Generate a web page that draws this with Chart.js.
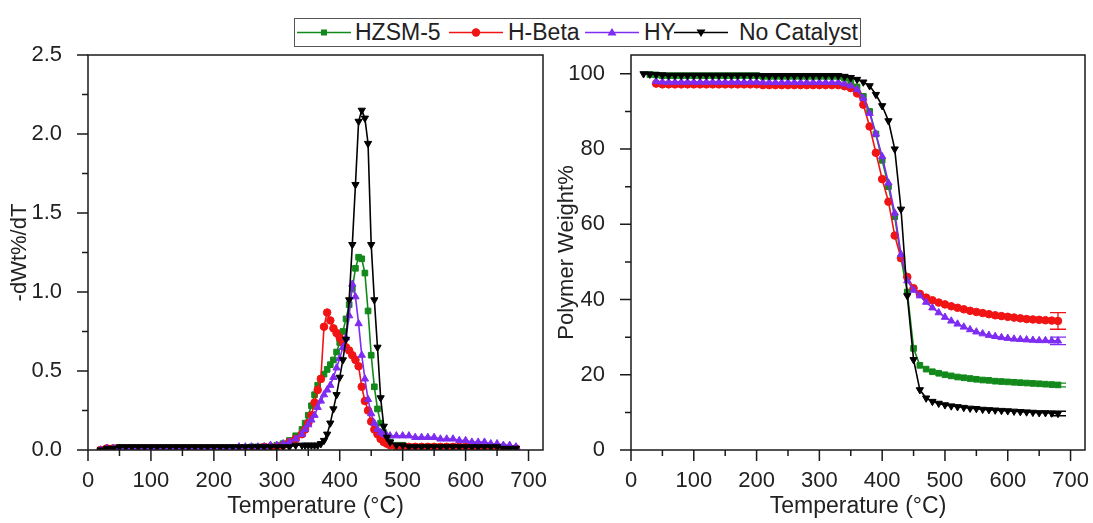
<!DOCTYPE html>
<html><head><meta charset="utf-8">
<script src="https://cdn.jsdelivr.net/npm/chart.js@4.4.1/dist/chart.umd.min.js"></script>
<style>
html,body{margin:0;padding:0;background:#fff;width:1093px;height:523px;overflow:hidden;position:relative;font-family:"Liberation Sans",Arial,sans-serif;}
#c1{position:absolute;left:0;top:0;}
#c2{position:absolute;left:545px;top:0;}
#legend{position:absolute;left:294px;top:18px;width:565px;height:27px;border:1.5px solid #555;background:#fff;}
.lg{position:absolute;top:0;}
.lt{position:absolute;top:0;line-height:27px;font-size:23px;color:#222;white-space:nowrap;}
</style></head>
<body>
<canvas id="c1" width="560" height="523"></canvas>
<canvas id="c2" width="548" height="523"></canvas>
<div id="legend"></div>
<script>
// ---------- DATA ----------
const seriesNames = ["HZSM-5", "H-Beta", "HY", "No Catalyst"];
const seriesColors = ["#12891a", "#f01414", "#7f2cf2", "#000000"];

const xTicks = [0, 100, 200, 300, 400, 500, 600, 700];
const xMinorTicks = [50, 150, 250, 350, 450, 550, 650];
const dtgYTicks = [0, 0.5, 1.0, 1.5, 2.0, 2.5];
const dtgYMinorTicks = [0.25, 0.75, 1.25, 1.75, 2.25];
const tgaYTicks = [0, 20, 40, 60, 80, 100];
const tgaYMinorTicks = [10, 30, 50, 70, 90];

// Derivative (DTG) curves: -dWt%/dT vs temperature
const dtgTemps = [20,30,40,50,60,70,80,90,100,110,120,130,140,150,160,170,180,190,200,210,220,230,240,250,260,270,280,290,300,310,320,330,340,
  345,350,355,360,365,370,375,380,385,390,395,400,405,410,415,420,425,430,435,440,445,450,455,460,465,470,475,480,
  490,500,510,520,530,540,550,560,570,580,590,600,610,620,630,640,650,660,670,680];
const dtgHZSM5 = [0.00,0.01,0.01,0.01,0.01,0.01,0.01,0.01,0.01,0.01,0.01,0.01,0.01,0.01,0.01,0.01,0.01,0.01,0.01,0.01,0.01,0.01,0.01,0.01,0.02,0.02,0.02,0.02,
  0.03,0.04,0.06,0.09,0.13,
  0.17,0.22,0.28,0.35,0.41,0.45,0.48,0.51,0.54,0.57,0.62,0.68,0.75,0.83,0.92,1.02,1.15,1.22,1.21,1.12,0.88,0.60,0.40,0.26,0.17,0.11,0.07,0.05,
  0.03,0.03,0.02,0.02,0.02,0.02,0.02,0.02,0.02,0.02,0.02,0.02,0.02,0.02,0.02,0.02,0.02,0.02,0.01,0.01];
const dtgHBeta = [0.00,0.01,0.01,0.01,0.01,0.01,0.01,0.01,0.01,0.01,0.01,0.01,0.01,0.01,0.01,0.01,0.01,0.01,0.01,0.01,0.01,0.01,0.01,0.01,0.01,0.01,0.02,0.02,
  0.02,0.03,0.05,0.07,0.10,
  0.13,0.17,0.22,0.30,0.38,0.45,0.78,0.87,0.82,0.77,0.74,0.71,0.68,0.65,0.63,0.60,0.57,0.53,0.40,0.31,0.25,0.18,0.13,0.10,0.07,0.05,0.04,0.03,
  0.02,0.02,0.02,0.02,0.02,0.02,0.02,0.02,0.02,0.02,0.02,0.02,0.02,0.02,0.02,0.02,0.01,0.01,0.01,0.01];
const dtgHY = [0.00,0.01,0.01,0.01,0.01,0.01,0.01,0.01,0.01,0.01,0.01,0.01,0.01,0.01,0.01,0.01,0.01,0.01,0.01,0.01,0.01,0.01,0.02,0.02,0.02,0.02,0.02,0.03,
  0.03,0.04,0.05,0.07,0.10,
  0.13,0.16,0.19,0.22,0.27,0.31,0.35,0.38,0.41,0.46,0.52,0.58,0.65,0.71,0.85,1.05,0.97,0.80,0.60,0.45,0.32,0.23,0.17,0.13,0.11,0.10,0.09,0.09,
  0.09,0.09,0.09,0.08,0.08,0.08,0.08,0.07,0.07,0.07,0.06,0.06,0.05,0.05,0.05,0.04,0.04,0.03,0.03,0.02];
const dtgNoCat = [0.00,0.01,0.01,0.02,0.02,0.02,0.02,0.02,0.02,0.02,0.02,0.02,0.02,0.02,0.02,0.02,0.02,0.02,0.02,0.02,0.02,0.02,0.02,0.02,0.02,0.02,0.02,0.02,
  0.02,0.02,0.02,0.03,0.03,
  0.03,0.03,0.03,0.03,0.03,0.04,0.06,0.10,0.17,0.26,0.35,0.46,0.57,0.70,0.95,1.30,1.68,2.08,2.15,2.10,1.94,1.30,0.95,0.65,0.33,0.15,0.08,0.05,
  0.03,0.03,0.02,0.02,0.02,0.02,0.02,0.02,0.02,0.02,0.02,0.02,0.02,0.02,0.02,0.02,0.02,0.01,0.01,0.01];

// Thermogravimetric (TGA) curves: polymer weight% vs temperature
const tgaTemps = [20,30,40,50,60,70,80,90,100,110,120,130,140,150,160,170,180,190,200,210,220,230,240,250,260,270,280,290,300,310,320,330,
  340,350,360,370,380,390,400,410,420,430,440,450,460,470,480,490,500,510,520,530,540,550,560,570,580,590,600,610,620,630,640,650,660,670,680];
const tgaHZSM5 = [null,99.8,99.7,99.5,99.5,99.5,99.5,99.5,99.5,99.5,99.5,99.5,99.5,99.5,99.5,99.5,99.5,99.5,99.5,99.3,99.3,99.3,99.3,99.3,99.3,99.3,99.3,99.3,99.3,99.3,99.3,99.3,
  98.8,98.0,96.5,94.0,90.0,84.0,77.0,70.0,62.0,51.0,42.0,27.0,22.5,21.5,20.8,20.4,20.0,19.7,19.4,19.2,19.0,18.8,18.6,18.5,18.3,18.2,18.1,18.0,17.9,17.8,17.7,17.6,17.5,17.4,17.3];
const tgaHBeta = [null,null,97.4,97.2,97.2,97.2,97.2,97.2,97.2,97.2,97.2,97.2,97.2,97.2,97.2,97.2,97.2,97.2,97.2,97.0,97.0,97.0,97.0,97.0,97.0,97.0,97.0,97.0,97.0,97.0,97.0,97.0,
  96.7,96.2,94.8,91.8,86.0,79.0,72.0,66.0,57.0,51.0,46.0,43.0,41.5,40.5,39.8,39.2,38.7,38.2,37.8,37.4,37.0,36.7,36.4,36.1,35.8,35.6,35.4,35.2,35.0,34.8,34.7,34.6,34.5,34.4,34.3];
const tgaHY = [null,null,98.0,97.8,97.8,97.8,97.8,97.8,97.8,97.8,97.8,97.8,97.8,97.8,97.8,97.8,97.8,97.8,97.8,97.7,97.7,97.7,97.7,97.7,97.7,97.7,97.7,97.7,97.7,97.7,97.7,97.7,
  97.3,96.8,95.8,93.5,89.5,84.0,78.0,71.0,63.0,52.0,45.0,42.5,41.0,39.3,37.8,36.5,35.3,34.3,33.5,32.7,32.0,31.4,30.9,30.5,30.2,29.9,29.7,29.5,29.4,29.3,29.2,29.1,29.1,29.0,29.0];
const tgaNoCat = [100.0,99.9,99.8,99.7,99.6,99.6,99.6,99.6,99.6,99.6,99.6,99.6,99.6,99.6,99.6,99.6,99.6,99.6,99.6,99.5,99.5,99.5,99.5,99.5,99.5,99.5,99.5,99.5,99.5,99.5,99.5,99.5,
  99.3,99.0,98.5,97.8,96.8,94.5,91.5,87.5,80.0,64.0,41.0,24.0,16.0,13.8,12.9,12.4,12.0,11.7,11.5,11.3,11.1,11.0,10.8,10.7,10.6,10.5,10.4,10.3,10.2,10.1,10.0,9.9,9.9,9.8,9.7];
// error bar (±) on the final TGA point of each series
const tgaEndError = [0.5, 2.2, 1.0, 0.6];

// ---------- STYLE ----------
const FONT = '"Liberation Sans", Arial, sans-serif';
const TXT = '#222';
const pointStyles = ['rect', 'circle', 'triangle', 'triangle'];
const pointRot = [0, 0, 0, 180];
const pointRad = [4, 3.8, 4.2, 4.2];

function makeDatasets(temps, seriesArr) {
  return seriesArr.map((vals, i) => ({
    label: seriesNames[i],
    data: temps.map((t, j) => ({x: t, y: vals[j]})),
    borderColor: seriesColors[i],
    backgroundColor: seriesColors[i],
    borderWidth: 1.6,
    pointStyle: pointStyles[i],
    rotation: pointRot[i],
    pointRadius: pointRad[i],
    pointBorderWidth: 1,
    tension: 0,
    spanGaps: false,
    order: 3 - i
  }));
}

const decoPlugin = {
  id: 'deco',
  afterDraw(chart, args, o) {
    const ctx = chart.ctx, a = chart.chartArea;
    const xs = chart.scales.x, ys = chart.scales.y;
    ctx.save();
    ctx.strokeStyle = '#1a1a1a';
    ctx.lineWidth = 1.5;
    ctx.strokeRect(a.left, a.top, a.right - a.left, a.bottom - a.top);
    ctx.beginPath();
    o.xMajor.forEach(v => { const p = xs.getPixelForValue(v); ctx.moveTo(p, a.bottom); ctx.lineTo(p, a.bottom + 11); });
    o.xMinor.forEach(v => { const p = xs.getPixelForValue(v); ctx.moveTo(p, a.bottom); ctx.lineTo(p, a.bottom + 6); });
    o.yMajor.forEach(v => { const p = ys.getPixelForValue(v); ctx.moveTo(a.left, p); ctx.lineTo(a.left - 11, p); });
    o.yMinor.forEach(v => { const p = ys.getPixelForValue(v); ctx.moveTo(a.left, p); ctx.lineTo(a.left - 6, p); });
    ctx.stroke();
    ctx.restore();
  }
};

const errPlugin = {
  id: 'errbars',
  afterDatasetsDraw(chart, args, o) {
    if (!o.errors) return;
    const ctx = chart.ctx, ys = chart.scales.y;
    ctx.save();
    chart.data.datasets.forEach((ds, i) => {
      const meta = chart.getDatasetMeta(i);
      const last = ds.data[ds.data.length - 1];
      const el = meta.data[meta.data.length - 1];
      const e = o.errors[i];
      const yt = ys.getPixelForValue(last.y + e), yb = ys.getPixelForValue(last.y - e);
      ctx.strokeStyle = seriesColors[i];
      ctx.lineWidth = 1.3;
      ctx.beginPath();
      ctx.moveTo(el.x, yt); ctx.lineTo(el.x, yb);
      ctx.moveTo(el.x - 8, yt); ctx.lineTo(el.x + 8, yt);
      ctx.moveTo(el.x - 8, yb); ctx.lineTo(el.x + 8, yb);
      ctx.stroke();
    });
    ctx.restore();
  }
};

function makeOptions(cfg) {
  return {
    responsive: false,
    animation: false,
    events: [],
    layout: {padding: {left: 0, right: cfg.padRight, top: 55, bottom: 3}},
    plugins: {
      legend: {display: false},
      tooltip: {enabled: false},
      deco: {xMajor: xTicks, xMinor: xMinorTicks, yMajor: cfg.yTicks, yMinor: cfg.yMinor},
      errbars: {errors: cfg.errors || null}
    },
    scales: {
      x: {
        type: 'linear', min: 0, max: 723,
        grid: {display: false},
        border: {display: false},
        afterBuildTicks: s => { s.ticks = xTicks.map(v => ({value: v})); },
        afterFit: s => { s.height = 70; s.paddingLeft = 0; s.paddingRight = 0; },
        ticks: {color: TXT, font: {family: FONT, size: 22}, padding: 10, maxRotation: 0, autoSkip: false,
          callback: v => String(v)},
        title: {display: true, text: 'Temperature (°C)', color: TXT, font: {family: FONT, size: 23}, padding: {top: 0, bottom: 0}}
      },
      y: {
        type: 'linear', min: 0, max: cfg.yMax,
        grid: {display: false},
        border: {display: false},
        afterBuildTicks: s => { s.ticks = cfg.yTicks.map(v => ({value: v})); },
        afterFit: s => { s.width = cfg.yWidth; s.paddingTop = 0; s.paddingBottom = 0; },
        ticks: {color: TXT, font: {family: FONT, size: 22}, padding: 18, autoSkip: false,
          callback: cfg.yFmt},
        title: {display: true, text: cfg.yTitle, color: TXT, font: {family: FONT, size: 22}, padding: {top: cfg.yTitlePad, bottom: 0}}
      }
    }
  };
}

new Chart(document.getElementById('c1'), {
  type: 'line',
  data: {datasets: makeDatasets(dtgTemps, [dtgHZSM5, dtgHBeta, dtgHY, dtgNoCat])},
  options: makeOptions({padRight: 17, yMax: 2.5, yTicks: dtgYTicks, yMinor: dtgYMinorTicks, yWidth: 88,
    yFmt: v => Number(v).toFixed(1), yTitle: '-dWt%/dT', yTitlePad: 7}),
  plugins: [decoPlugin, errPlugin]
});

new Chart(document.getElementById('c2'), {
  type: 'line',
  data: {datasets: makeDatasets(tgaTemps, [tgaHZSM5, tgaHBeta, tgaHY, tgaNoCat])},
  options: makeOptions({padRight: 8, yMax: 105, yTicks: tgaYTicks, yMinor: tgaYMinorTicks, yWidth: 86,
    yFmt: v => String(v), yTitle: 'Polymer Weight%', yTitlePad: 9, errors: tgaEndError}),
  plugins: [decoPlugin, errPlugin]
});

// ---------- LEGEND ----------
const legendSlots = [{s: 2, t: 60}, {s: 154, t: 213}, {s: 290, t: 349}, {s: 379, t: 444}];
const lg = document.getElementById('legend');
function markerSvg(i) {
  const c = seriesColors[i], cx = 27, cy = 13.5;
  let m = '';
  if (i === 0) m = `<rect x="${cx-3}" y="${cy-3}" width="6" height="6" fill="${c}"/>`;
  else if (i === 1) m = `<circle cx="${cx}" cy="${cy}" r="4.2" fill="${c}"/>`;
  else if (i === 2) m = `<polygon points="${cx},${cy-4.5} ${cx+4.5},${cy+3} ${cx-4.5},${cy+3}" fill="${c}"/>`;
  else m = `<polygon points="${cx},${cy+4.5} ${cx+4.5},${cy-3} ${cx-4.5},${cy-3}" fill="${c}"/>`;
  return `<svg width="56" height="27" xmlns="http://www.w3.org/2000/svg"><line x1="0" y1="${cy}" x2="54" y2="${cy}" stroke="${c}" stroke-width="1.6"/>${m}</svg>`;
}
seriesNames.forEach((name, i) => {
  const s = document.createElement('div');
  s.className = 'lg'; s.style.left = legendSlots[i].s + 'px';
  s.innerHTML = markerSvg(i);
  lg.appendChild(s);
  const t = document.createElement('div');
  t.className = 'lt'; t.style.left = legendSlots[i].t + 'px';
  t.textContent = name;
  lg.appendChild(t);
});
</script>
</body></html>
